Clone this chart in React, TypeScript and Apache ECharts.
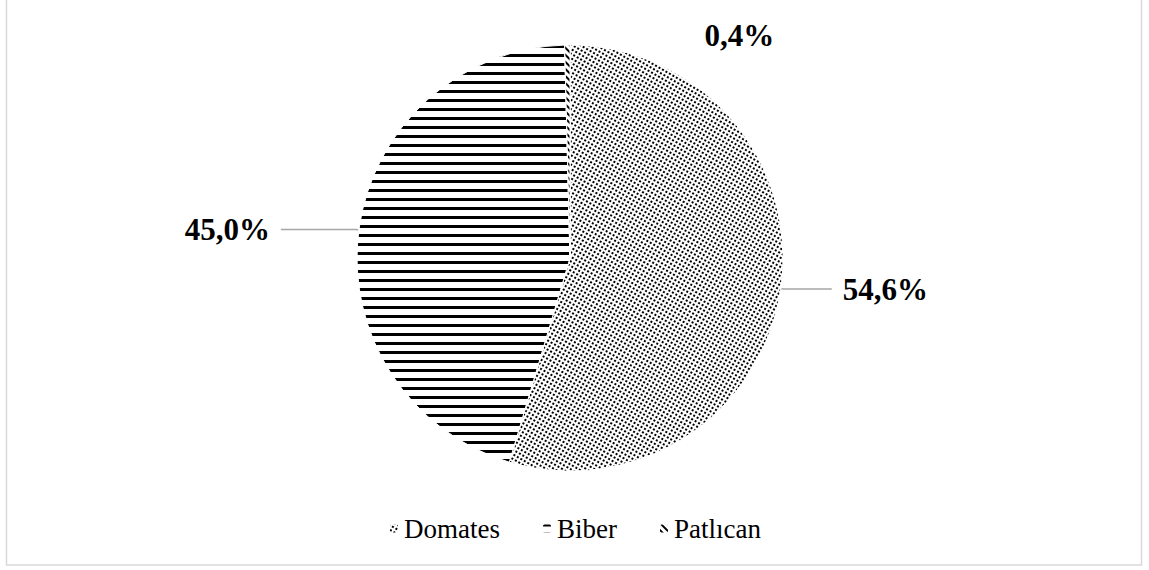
import React, { useEffect, useRef } from "react";
import * as echarts from "echarts";

const categories = ["Domates", "Biber", "Patlıcan"];
const shares = [54.6, 45.0, 0.4];

const FONT = "Liberation Serif";

const decals = [
  { symbol: "rect", symbolSize: 1, dashArrayX: [2, 2], dashArrayY: [2, 2], color: "#000" },
  { symbol: "rect", symbolSize: 1, dashArrayX: [1, 0], dashArrayY: [2.5, 5.8], color: "#000" },
  { symbol: "rect", symbolSize: 1, dashArrayX: [1.5, 2.5], dashArrayY: [1, 0], color: "#000" },
];

export default function App() {
  const ref = useRef<HTMLDivElement>(null);
  useEffect(() => {
    if (!ref.current) return;
    const chart = echarts.init(ref.current, undefined, { renderer: "svg" });
    chart.setOption({
      animation: false,
      aria: { enabled: true, decal: { show: true } },
      textStyle: { fontFamily: FONT },
      legend: {
        top: 510,
        left: "center",
        itemWidth: 10,
        itemHeight: 10,
        itemGap: 41,
        textStyle: { fontFamily: FONT, fontSize: 27, color: "#000" },
        data: categories,
      },
      graphic: [
        {
          type: "rect",
          shape: { x: 6.5, y: -2, width: 1135, height: 567 },
          style: { fill: "none", stroke: "#d9d9d9", lineWidth: 1.5 },
          silent: true,
        },
      ],
      series: [
        {
          type: "pie",
          center: [570, 258],
          radius: 213,
          startAngle: 90,
          clockwise: true,
          avoidLabelOverlap: false,
          label: {
            show: true,
            position: "outside",
            formatter: (p: any) => p.value.toFixed(1).replace(".", ",") + "%",
            fontFamily: FONT,
            fontWeight: "bold",
            fontSize: 31,
            color: "#000",
            distanceToLabelLine: 11,
          },
          labelLayout: (params: any) => {
            if (params.dataIndex === 2) {
              return { dx: 248, dy: 5 };
            }
            return {};
          },
          itemStyle: { borderColor: "#fff", borderWidth: 1 },
          data: categories.map((name, i) => ({
            name,
            value: shares[i],
            itemStyle: { color: "#fff", decal: decals[i] },
            labelLine:
              i === 2
                ? { show: false }
                : { show: true, length: 3, length2: i === 0 ? 48 : 75, lineStyle: { color: "#a6a6a6", width: 1.5 } },
          })),
        },
      ],
    });
    return () => chart.dispose();
  }, []);
  return <div ref={ref} style={{ position: "absolute", left: 0, top: 0, width: 1149, height: 570 }} />;
}
